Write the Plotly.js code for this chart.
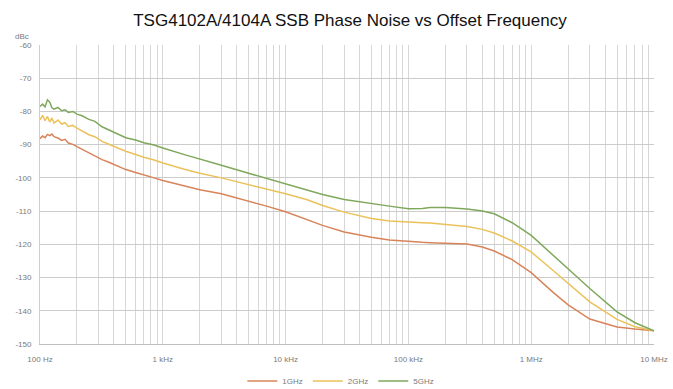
<!DOCTYPE html>
<html>
<head>
<meta charset="utf-8">
<script src="https://cdn.plot.ly/plotly-3.0.1.min.js"></script>
<style>html,body{margin:0;padding:0;background:#fff;}#chart{width:673px;height:389px;}</style>
</head>
<body>
<div id="chart"></div>
<script>
const freqHz = [100,105,110,115,120,125,130,140,150,160,170,185,200,220,250,280,320,360,400,450,500,600,700,850,1000,1500,2000,3000,5000,7000,10000,15000,20000,30000,50000,70000,100000,130000,150000,200000,300000,400000,500000,700000,1000000,1500000,2000000,3000000,5000000,7000000,10000000];

const noise1GHz = [-88.2,-87.4,-87.9,-86.9,-87.3,-86.8,-87.6,-88.0,-88.7,-88.4,-89.5,-89.9,-90.6,-91.4,-92.5,-93.2,-94.5,-95.2,-96.0,-96.8,-97.5,-98.4,-99.2,-100.0,-100.8,-102.5,-103.6,-104.8,-106.9,-108.5,-110.2,-112.6,-114.3,-116.3,-117.9,-118.7,-119.2,-119.4,-119.5,-119.6,-119.9,-120.8,-122.0,-124.6,-128.5,-134.4,-138.2,-142.5,-144.9,-145.5,-146.0];

const noise2GHz = [-82.5,-81.2,-82.8,-81.5,-83.2,-82.0,-83.5,-82.6,-83.8,-83.4,-84.5,-84.2,-85.0,-85.8,-87.0,-87.6,-89.0,-89.8,-90.6,-91.3,-92.0,-93.0,-93.8,-94.6,-95.5,-97.4,-98.6,-100.0,-102.0,-103.4,-104.8,-106.6,-108.3,-110.3,-112.2,-113.0,-113.4,-113.5,-113.6,-114.0,-114.6,-115.5,-116.6,-119.0,-122.3,-127.8,-131.8,-137.3,-142.6,-144.8,-146.0];

const noise5GHz = [-78.5,-77.8,-78.6,-76.5,-77.2,-78.9,-79.3,-78.8,-79.8,-79.5,-80.3,-80.0,-80.8,-81.3,-82.4,-83.0,-84.6,-85.5,-86.3,-87.2,-87.9,-88.6,-89.4,-90.1,-91.0,-93.0,-94.4,-96.2,-98.6,-100.1,-101.7,-103.7,-105.0,-106.5,-107.8,-108.5,-109.3,-109.2,-108.9,-108.9,-109.4,-110.0,-110.8,-113.5,-117.3,-123.1,-127.4,-133.3,-140.3,-143.6,-146.0];

const seriesNames = ['1GHz','2GHz','5GHz'];
const seriesColors = ['#D8845A','#EBC25A','#7FA85C'];

const decadeLabels = ['100 Hz','1 kHz','10 kHz','100 kHz','1 MHz','10 MHz'];
const yTicks = [-60,-70,-80,-90,-100,-110,-120,-130,-140,-150];

// gridlines at 1..9 of each decade; labels only at decades
const tickVals = [];
const tickText = [];
for (let d = 0; d < decadeLabels.length; d++) {
  const base = 100 * Math.pow(10, d);
  const maxM = (d === decadeLabels.length - 1) ? 1 : 9;
  for (let m = 1; m <= maxM; m++) {
    tickVals.push(base * m);
    tickText.push(m === 1 ? decadeLabels[d] : '');
  }
}

const ys = [noise1GHz, noise2GHz, noise5GHz];
const traces = ys.map((y, i) => ({
  x: freqHz, y: y, type: 'scatter', mode: 'lines', name: seriesNames[i],
  line: {color: seriesColors[i], width: 1.5}
}));

const layout = {
  width: 673, height: 389,
  margin: {l: 40, r: 19, t: 45, b: 45, autoexpand: false},
  paper_bgcolor: '#fff', plot_bgcolor: '#fff',
  font: {family: 'Liberation Sans, Arial, sans-serif', size: 8, color: '#7a7a7a'},
  title: {text: 'TSG4102A/4104A SSB Phase Noise vs Offset Frequency', x: 0.52, xanchor: 'center', y: 0.948, yanchor: 'middle',
          font: {family: 'Liberation Sans, Arial, sans-serif', size: 17, color: '#111'}},
  xaxis: {type: 'log', range: [2, 7], tickmode: 'array', tickvals: tickVals, ticktext: tickText,
          showgrid: true, gridcolor: '#d6d6d6', gridwidth: 1, zeroline: false, showline: true, linecolor: '#bfbfbf',
          ticks: '', ticklabelstandoff: 7, tickfont: {size: 8, color: '#7a7a7a'}, fixedrange: true, automargin: false},
  yaxis: {range: [-150, -60], tickmode: 'array', tickvals: yTicks, ticktext: yTicks.map(String),
          showgrid: true, gridcolor: '#cccccc', gridwidth: 1.2, zeroline: false, showline: true, linecolor: '#cfcfcf',
          ticks: '', ticklabelstandoff: 6, tickfont: {size: 8, color: '#7a7a7a'}, fixedrange: true, automargin: false},
  showlegend: true,
  legend: {orientation: 'h', x: 0.49, xanchor: 'center', y: -0.124, yanchor: 'middle',
           font: {size: 8, color: '#7a7a7a'}, bgcolor: 'rgba(0,0,0,0)', itemwidth: 30},
  annotations: [{text: 'dBc', xref: 'paper', yref: 'paper', x: -0.03, y: 1.0, xanchor: 'center', yanchor: 'bottom',
                 yshift: 2, showarrow: false, font: {size: 8, color: '#7a7a7a'}}]
};

Plotly.newPlot('chart', traces, layout, {displayModeBar: false, staticPlot: true});
</script>
</body>
</html>
